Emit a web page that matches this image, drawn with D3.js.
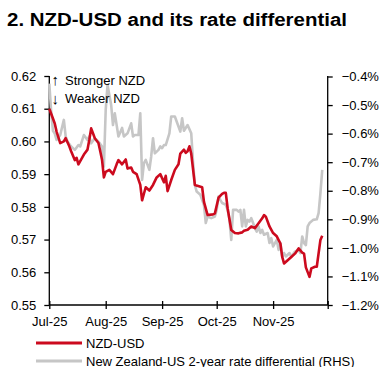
<!DOCTYPE html>
<html><head><meta charset="utf-8">
<script src="https://cdn.jsdelivr.net/npm/d3@7"></script>
<style>
html,body{margin:0;padding:0;background:#fff;}
text{font-family:"Liberation Sans",Arial,sans-serif;fill:#000;}
</style></head>
<body><svg id="c" width="382" height="367"></svg>
<script>
const title = "2. NZD-USD and its rate differential";
const nzdDates = ["2025-07-01","2025-07-03","2025-07-04","2025-07-05","2025-07-07","2025-07-09","2025-07-10","2025-07-12","2025-07-13","2025-07-15","2025-07-16","2025-07-17","2025-07-19","2025-07-20","2025-07-22","2025-07-23","2025-07-24","2025-07-25","2025-07-26","2025-07-28","2025-07-29","2025-07-30","2025-07-31",
"2025-08-01","2025-08-03","2025-08-05","2025-08-07","2025-08-08","2025-08-10","2025-08-12","2025-08-13","2025-08-15","2025-08-16","2025-08-18","2025-08-20","2025-08-21","2025-08-22","2025-08-23","2025-08-25","2025-08-27","2025-08-29","2025-08-31",
"2025-09-02","2025-09-03","2025-09-04","2025-09-06","2025-09-08","2025-09-10","2025-09-11","2025-09-13","2025-09-14","2025-09-15","2025-09-16","2025-09-17","2025-09-19","2025-09-23","2025-09-24","2025-09-26","2025-09-29","2025-09-30",
"2025-10-02","2025-10-04","2025-10-05","2025-10-06","2025-10-07","2025-10-09","2025-10-11","2025-10-13","2025-10-15","2025-10-16","2025-10-18","2025-10-20","2025-10-22","2025-10-24","2025-10-26","2025-10-27","2025-10-28","2025-10-30",
"2025-11-01","2025-11-03","2025-11-05","2025-11-06","2025-11-07","2025-11-09","2025-11-11","2025-11-13","2025-11-15","2025-11-17","2025-11-18","2025-11-19","2025-11-21","2025-11-22","2025-11-24","2025-11-25","2025-11-27","2025-11-28"];
const nzdValues = [0.610,0.607,0.6055,0.603,0.5995,0.600,0.601,0.5985,0.597,0.5943,0.595,0.593,0.595,0.596,0.5975,0.6005,0.604,0.6025,0.601,0.5995,0.597,0.5943,0.589,
0.5907,0.5913,0.590,0.593,0.5943,0.593,0.5945,0.5917,0.592,0.5907,0.590,0.5867,0.582,0.584,0.586,0.585,0.5867,0.589,0.590,
0.5875,0.5895,0.5848,0.5882,0.5913,0.593,0.5963,0.5975,0.5965,0.597,0.5985,0.5963,0.5867,0.586,0.5815,0.5775,0.5777,0.578,
0.5828,0.584,0.5843,0.5843,0.5796,0.5729,0.572,0.5719,0.5722,0.5727,0.573,0.574,0.5735,0.575,0.5765,0.5775,0.577,0.574,
0.572,0.571,0.5688,0.5647,0.5627,0.5637,0.5647,0.5657,0.5673,0.566,0.5657,0.5615,0.5586,0.5612,0.5617,0.5617,0.5699,0.5712];

const diffDates = ["2025-07-01","2025-07-02","2025-07-03","2025-07-04","2025-07-05","2025-07-07","2025-07-09","2025-07-10","2025-07-11","2025-07-13","2025-07-15","2025-07-17","2025-07-18","2025-07-20","2025-07-22","2025-07-23","2025-07-24","2025-07-26","2025-07-28","2025-07-30","2025-07-31",
"2025-08-01","2025-08-02","2025-08-03","2025-08-04","2025-08-05","2025-08-06","2025-08-08","2025-08-10","2025-08-11","2025-08-13","2025-08-15","2025-08-16","2025-08-17","2025-08-19","2025-08-20","2025-08-21","2025-08-22","2025-08-23","2025-08-25","2025-08-26","2025-08-27","2025-08-28","2025-08-30","2025-08-31",
"2025-09-01","2025-09-02","2025-09-03","2025-09-05","2025-09-06","2025-09-08","2025-09-10","2025-09-11","2025-09-12","2025-09-13","2025-09-15","2025-09-17","2025-09-18","2025-09-19","2025-09-20","2025-09-22","2025-09-23","2025-09-24","2025-09-25","2025-09-26","2025-09-28","2025-09-30",
"2025-10-01","2025-10-02","2025-10-03","2025-10-04","2025-10-06","2025-10-07","2025-10-08","2025-10-09","2025-10-10","2025-10-11","2025-10-12","2025-10-13","2025-10-14","2025-10-15","2025-10-16","2025-10-17","2025-10-18","2025-10-19","2025-10-20","2025-10-21","2025-10-22","2025-10-23","2025-10-24","2025-10-25","2025-10-26","2025-10-27","2025-10-29","2025-10-30","2025-10-31",
"2025-11-01","2025-11-03","2025-11-04","2025-11-05","2025-11-06","2025-11-07","2025-11-08","2025-11-10","2025-11-11","2025-11-13","2025-11-15","2025-11-16","2025-11-17","2025-11-18","2025-11-19","2025-11-20","2025-11-21","2025-11-23","2025-11-25","2025-11-26","2025-11-27","2025-11-28"];
const diffValues = [-0.425,-0.52,-0.59,-0.60,-0.622,-0.605,-0.552,-0.61,-0.628,-0.645,-0.657,-0.64,-0.645,-0.605,-0.622,-0.61,-0.634,-0.616,-0.628,-0.645,-0.715,
-0.517,-0.43,-0.465,-0.50,-0.57,-0.529,-0.61,-0.58,-0.61,-0.599,-0.564,-0.61,-0.605,-0.605,-0.529,-0.762,-0.703,-0.692,-0.727,-0.68,-0.616,-0.669,-0.657,-0.645,
-0.651,-0.64,-0.64,-0.599,-0.54,-0.54,-0.575,-0.593,-0.546,-0.59,-0.57,-0.599,-0.70,-0.78,-0.803,-0.814,-0.832,-0.85,-0.913,-0.89,-0.896,-0.89,
-0.867,-0.82,-0.832,-0.843,-0.849,-0.867,-0.90,-0.972,-0.867,-0.867,-0.867,-0.873,-0.867,-0.925,-0.867,-0.925,-0.902,-0.908,-0.896,-0.913,-0.931,-0.943,-0.925,-0.948,-0.937,-0.954,-0.948,-0.983,-0.966,
-0.995,-0.972,-1.007,-0.983,-1.03,-1.018,-1.03,-1.018,-1.03,-1.013,-1.007,-1.018,-0.96,-0.983,-0.99,-0.925,-0.913,-0.902,-0.90,-0.878,-0.808,-0.727];

const xTickDates = ["2025-07-01","2025-08-01","2025-09-01","2025-10-01","2025-11-01","2025-12-01"];
const xTickLabels = ["Jul-25","Aug-25","Sep-25","Oct-25","Nov-25",""];
const leftTicks = [0.55,0.56,0.57,0.58,0.59,0.60,0.61,0.62];
const rightTicks = [-1.2,-1.1,-1.0,-0.9,-0.8,-0.7,-0.6,-0.5,-0.4];
const legendLabels = ["NZD-USD","New Zealand-US 2-year rate differential (RHS)"];
const annotations = ["Stronger NZD","Weaker NZD"];

const parse = d3.utcParse("%Y-%m-%d");
const svg = d3.select("#c");
svg.append("rect").attr("width",382).attr("height",367).attr("fill","#fff");

const L = 49.3, R = 327.7, T = 76, B = 305;
const x = d3.scaleUtc().domain([parse("2025-07-01"), parse("2025-12-01")]).range([L, R]);
const yL = d3.scaleLinear().domain([0.55,0.62]).range([B,T]);
const yR = d3.scaleLinear().domain([-1.2,-0.4]).range([B,T+0.5]);

svg.append("text").attr("x",7).attr("y",25.5).attr("font-size",18).attr("font-weight","bold")
  .attr("textLength",340).attr("lengthAdjust","spacingAndGlyphs").text(title);

// axes
const gL = svg.append("g").attr("transform",`translate(${L},0)`)
  .call(d3.axisLeft(yL).tickValues(leftTicks).tickFormat(d3.format(".2f")).tickSize(5).tickPadding(8));
const gR = svg.append("g").attr("transform",`translate(${R},0)`)
  .call(d3.axisRight(yR).tickValues(rightTicks).tickFormat(d=>d3.format(".1f")(d)+"%").tickSize(5).tickPadding(9));
const gB = svg.append("g").attr("transform",`translate(0,${B})`)
  .call(d3.axisBottom(x).tickValues(xTickDates.map(parse)).tickFormat((d,i)=>xTickLabels[i]).tickSizeInner(4).tickSizeOuter(0).tickPadding(12));
gB.selectAll(".tick line").attr("y1",-4).attr("y2",4);
[gL,gR,gB].forEach(g=>{
  g.selectAll("path.domain").attr("stroke","#000").attr("stroke-width",1.3);
  g.selectAll(".tick line").attr("stroke","#000").attr("stroke-width",1.3);
  g.selectAll("text").attr("font-size",13).attr("font-family","Liberation Sans, Arial, sans-serif").attr("fill","#000");
});
gL.select("path.domain").attr("d",`M0,${T}V${B}`);
gR.select("path.domain").attr("d",`M0,${T}V${B}`);
gB.select("path.domain").attr("d",`M${L},0H${R}`);
gB.selectAll("text").attr("dy","0.35em");

// lines
const lineR = d3.line().x((d,i)=>x(parse(diffDates[i]))).y(d=>yR(d));
svg.append("path").attr("d",lineR(diffValues)).attr("fill","none").attr("stroke","#c6c6c6").attr("stroke-width",2.6).attr("stroke-linejoin","round");
const lineL = d3.line().x((d,i)=>x(parse(nzdDates[i]))).y(d=>yL(d));
svg.append("path").attr("d",lineL(nzdValues)).attr("fill","none").attr("stroke","#cc0a1e").attr("stroke-width",2.6).attr("stroke-linejoin","round");

// annotations
svg.append("text").attr("x",51.5).attr("y",85).attr("font-size",15).text("\u2191");
svg.append("text").attr("x",65).attr("y",84.5).attr("font-size",13).text(annotations[0]);
svg.append("text").attr("x",51.5).attr("y",104).attr("font-size",15).text("\u2193");
svg.append("text").attr("x",65).attr("y",103).attr("font-size",13).text(annotations[1]);

// legend
const legColors = ["#cc0a1e","#c6c6c6"];
legendLabels.forEach((t,i)=>{
  const yy = 343 + i*18;
  svg.append("line").attr("x1",36).attr("x2",82).attr("y1",yy).attr("y2",yy).attr("stroke",legColors[i]).attr("stroke-width",3);
  svg.append("text").attr("x",86).attr("y",yy+4.5).attr("font-size",13).text(t);
});
</script></body></html>
